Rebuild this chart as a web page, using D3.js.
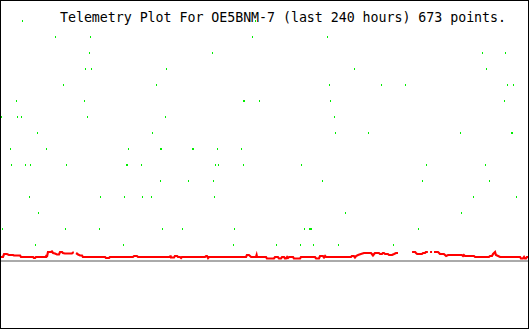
<!DOCTYPE html>
<html><head><meta charset="utf-8">
<script src="https://cdn.jsdelivr.net/npm/d3@7"></script>
<style>html,body{margin:0;padding:0;background:#fff;}svg{display:block;}</style>
</head><body>
<script>
const title = "Telemetry Plot For OE5BNM-7 (last 240 hours) 673 points.";
const hoursSpan = [0, 240];
const valueSpan = [0, 255];

// Red series: [hour, value]; null value = gap in data
const redHours = [0.0,0.9,1.4,2.7,3.6,5.5,5.9,8.7,9.1,14.6,15.0,15.5,15.9,20.5,20.7,20.9,21.4,22.8,23.2,23.7,24.6,25.5,26.4,26.9,27.8,28.2,29.1,32.3,32.8,33.2,33.7,34.2,35.1,36.0,36.9,37.3,47.4,47.8,49.2,49.6,60.1,60.6,61.9,62.4,77.0,77.2,77.4,78.8,79.2,80.2,80.6,81.5,82.0,82.4,92.9,93.4,93.8,94.3,94.7,111.6,112.0,112.9,113.4,113.9,116.1,116.4,116.6,120.7,121.1,124.3,124.8,126.1,126.6,127.5,128.0,128.9,129.3,129.8,130.3,130.7,131.2,133.0,133.4,136.2,136.6,143.0,143.5,144.8,145.3,146.6,147.1,147.6,148.0,159.4,159.8,160.7,161.2,161.7,162.6,163.9,165.3,168.5,168.9,169.4,169.9,170.3,172.1,172.6,173.5,173.9,174.4,174.9,176.2,176.7,178.1,178.5,179.0,179.9,180.8,184.0,187.2,188.6,189.0,189.5,191.7,192.2,193.1,193.5,194.4,194.9,195.4,196.3,196.8,197.2,199.0,199.5,199.9,201.7,202.2,202.7,203.6,209.9,210.4,210.8,211.3,215.4,215.9,222.2,222.7,223.6,224.1,225.0,225.4,226.4,227.3,236.4,236.8,237.7,238.2,238.6,239.1,239.5,240.0];
const redValues = [3,3,6,6,5,5,4.5,4.5,3,3,2,2,3,3,5,3,8,8,8.5,7,6.5,5.5,5.5,8,8,7,6.5,6.5,7.5,7.5,null,7,5.5,4.5,4.5,3,3,2,2,3,3,4,4,3,3,4.5,2.5,2.5,4,4,3,3,2,3,3,4,4,2,3,3,5,5,4,3,3,5,3,3,1.5,1.5,3,3,1.5,1.5,3,3,1.5,1.5,3,2,3,3,1.5,1.5,3,3,1.5,1.5,4,4,2.5,4,3,3,4,4,2.5,4,5,6,7,7,6,4.5,6,7,7,6,6,7,7,6,6,5,5,5.5,6,7,7,null,8,8,7,6,6,7,7,8,8,null,8,8,null,8,8,7,6,6,5,4,5,5,4,5,4,4,3,3,4,4,6,8,5,4,3,3,1.5,1.5,3,1.5,1.5,3,3];

// Green series, grouped by value level: hours of each sample
const greenLevels = [240,224,208,192,176,160,144,128,112,96,80,64,48,32,16];
const greenHours = [
  [9.6,115.7],
  [24.6,40.5,114.3,148.5],
  [40.1,96.1,219.1,229.5],
  [38.3,41.0,75.1,160.8,220.9],
  [28.2,70.6,149.4,173.1,184.0,230.4,233.2],
  [6.8,37.8,110.2,110.7,117.5,149.8,229.1],
  [0.0,7.3,9.1,39.2,74.7,151.7],
  [16.4,68.8,152.1,167.1,209.0,232.3,232.7],
  [4.1,20.5,57.8,72.4,72.9,87.0,87.4,98.4,109.3],
  [4.6,10.9,13.2,29.6,56.9,57.4,63.8,97.5,98.8,110.2,136.6,193.5,220.4],
  [72.4,85.2,96.5,146.2,191.7,222.2],
  [12.8,45.1,56.0,64.2,68.3,97.0,215.0,234.5],
  [16.9,156.7,209.5],
  [0.5,29.1,44.6,73.3,82.4,106.1,138.0,140.3,140.7,141.2,189.9],
  [15.5,55.6,105.7,125.2,136.2,142.1,153.5,178.5]
];

const W = 530, H = 330;
const svg = d3.select("body").append("svg").attr("width", W).attr("height", H);
svg.append("rect").attr("width", W).attr("height", H).attr("fill", "#fff");

const x = d3.scaleLinear().domain(hoursSpan).range([1, 528]);
const y = d3.scaleLinear().domain(valueSpan).range([260, 5]);

// baseline
svg.append("rect").attr("x", 1).attr("y", y(0)).attr("width", 528).attr("height", 2)
  .attr("fill", "#aaaaaa").attr("shape-rendering", "crispEdges");

// green points
const greenPts = [];
greenLevels.forEach((v, i) => greenHours[i].forEach(h => greenPts.push({h, v})));
svg.append("g").selectAll("rect").data(greenPts).join("rect")
  .attr("x", d => Math.round(x(d.h)))
  .attr("y", d => y(d.v))
  .attr("width", 1).attr("height", 2)
  .attr("fill", "#00ee00").attr("shape-rendering", "crispEdges");

// red line
const red = redHours.map((h, i) => ({h, v: redValues[i]}));
const line = d3.line().defined(d => d.v !== null).x(d => x(d.h)).y(d => y(d.v));
svg.append("path").attr("d", line(red)).attr("fill", "none")
  .attr("stroke", "#ff0000").attr("stroke-width", 2.2).attr("stroke-linejoin", "miter");

// title
svg.append("text").attr("x", 60).attr("y", 22)
  .attr("font-family", "'DejaVu Sans Mono', monospace").attr("font-size", 13.3)
  .attr("textLength", 446).attr("lengthAdjust", "spacing")
  .attr("fill", "#000").text(title);

// frame
svg.append("rect").attr("x", 0.5).attr("y", 0.5).attr("width", 528).attr("height", 328)
  .attr("fill", "none").attr("stroke", "#000").attr("stroke-width", 1.5)
  .attr("shape-rendering", "crispEdges");
</script>
</body></html>
